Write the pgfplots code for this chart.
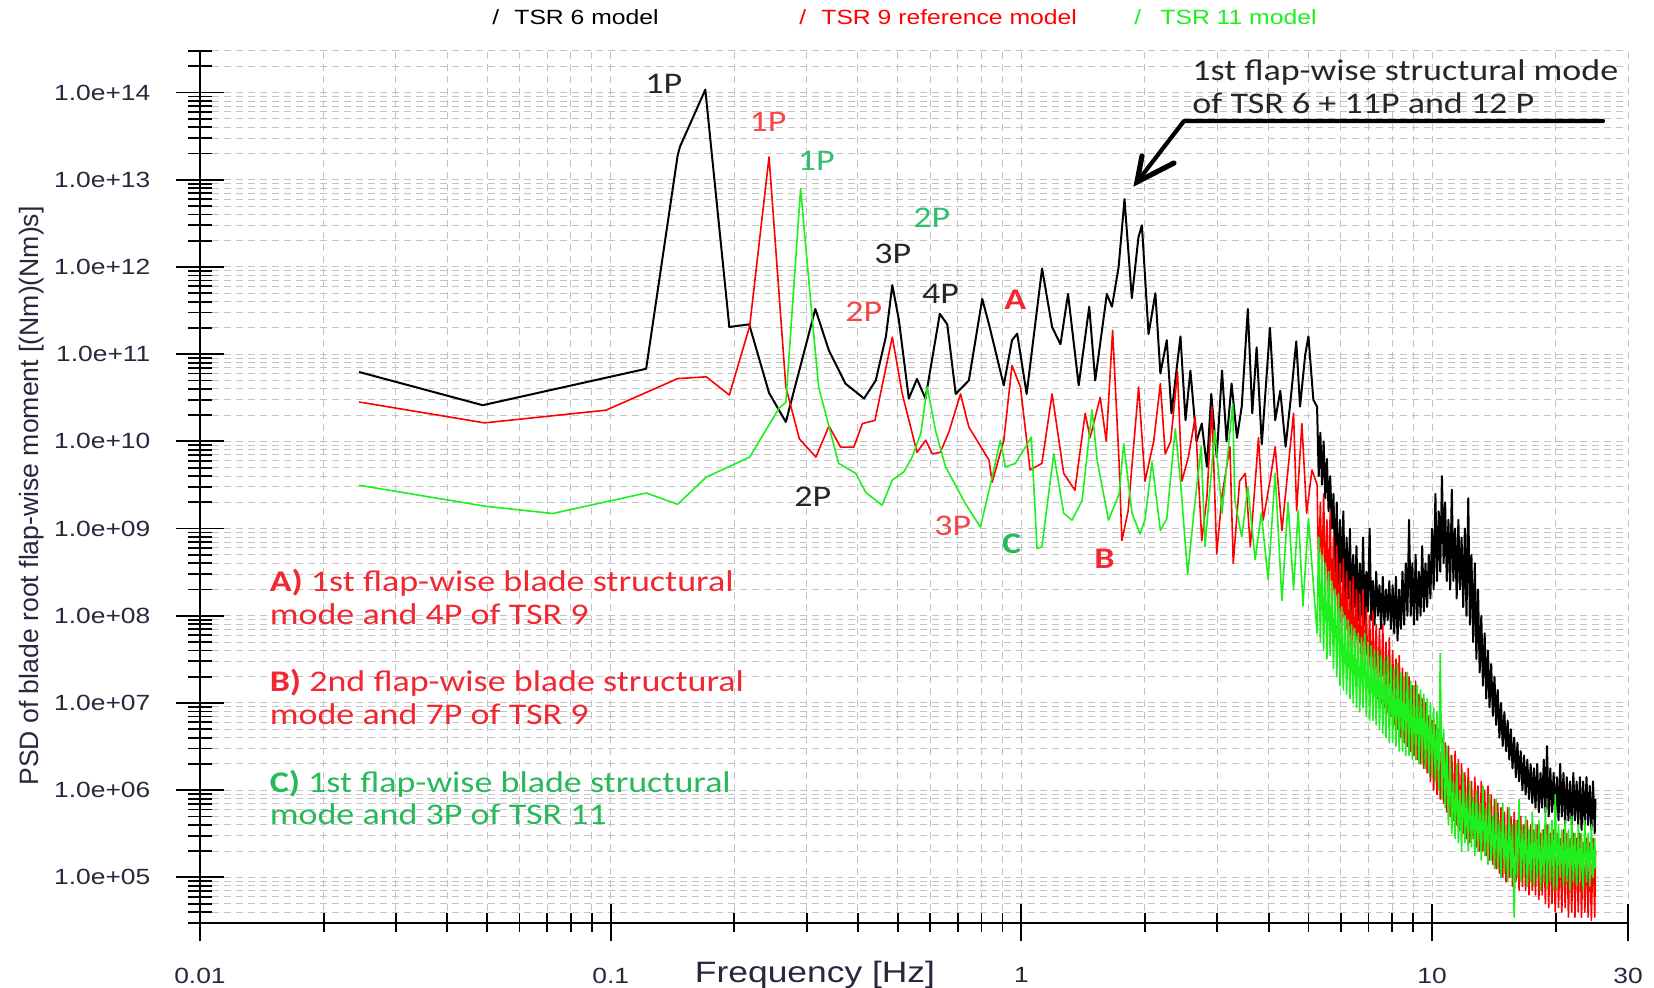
\documentclass[border=0pt]{standalone}
\usepackage{fontspec}
\setmainfont{Liberation Sans}
\newfontfamily\tickfont[FakeStretch=1.2]{Liberation Sans}
\newfontfamily\annfont[FakeStretch=1.2]{Carlito}
\usepackage{pgfplots}
\pgfplotsset{compat=1.18}
\definecolor{pred}{RGB}{255,0,0}
\definecolor{pgreen}{RGB}{30,240,30}
\definecolor{tred}{RGB}{240,40,50}
\definecolor{lred}{RGB}{245,70,70}
\definecolor{tgreen}{RGB}{40,185,90}
\definecolor{lgreen}{RGB}{50,190,110}
\definecolor{tickc}{RGB}{40,40,60}
\definecolor{gridc}{RGB}{195,195,195}
\begin{document}
\begin{tikzpicture}
\useasboundingbox (-100pt,-32.5pt) rectangle (727pt,461.5pt);
\begin{axis}[
  at={(0,0)}, anchor=south west,
  scale only axis, width=714pt, height=436pt,
  xmode=log, ymode=log,
  xmin=0.01, xmax=30, ymin=3e4, ymax=3e14,
  axis lines=left, axis line style={-, line width=1.1pt, black},
  xtick={0.01,0.1,1,10,30}, xticklabels={0.01,0.1,1,10,30},
  minor xtick={0.02,0.03,0.04,0.05,0.06,0.07,0.08,0.09,0.2,0.3,0.4,0.5,0.6,0.7,0.8,0.9,2,3,4,5,6,7,8,9,20},
  ytick={1e5,1e6,1e7,1e8,1e9,1e10,1e11,1e12,1e13,1e14},
  yticklabels={1.0e+05,1.0e+06,1.0e+07,1.0e+08,1.0e+09,1.0e+10,1.0e+11,1.0e+12,1.0e+13,1.0e+14},
  minor ytick={3e4,4e4,5e4,6e4,7e4,8e4,9e4,
    2e5,3e5,4e5,5e5,6e5,7e5,8e5,9e5,
    2e6,3e6,4e6,5e6,6e6,7e6,8e6,9e6,
    2e7,3e7,4e7,5e7,6e7,7e7,8e7,9e7,
    2e8,3e8,4e8,5e8,6e8,7e8,8e8,9e8,
    2e9,3e9,4e9,5e9,6e9,7e9,8e9,9e9,
    2e10,3e10,4e10,5e10,6e10,7e10,8e10,9e10,
    2e11,3e11,4e11,5e11,6e11,7e11,8e11,9e11,
    2e12,3e12,4e12,5e12,6e12,7e12,8e12,9e12,
    2e13,3e13,4e13,5e13,6e13,7e13,8e13,9e13,
    2e14,3e14},
  grid=both,
  major grid style={gridc, line width=0.5pt, dash pattern=on 3.5pt off 2.5pt},
  minor grid style={gridc, line width=0.5pt, dash pattern=on 3.5pt off 2.5pt},
  tick align=center,
  major tick length=22pt, minor tick length=10.5pt,
  xtick style={/pgfplots/major tick length=18.5pt, /pgfplots/minor tick length=9.5pt},
  ytick style={/pgfplots/major tick length=24.5pt, /pgfplots/minor tick length=11.7pt},
  tick style={black, line width=0.9pt},
  minor tick style={black, line width=0.9pt},
  ticklabel style={font=\tickfont\fontsize{11}{13}\selectfont, text=tickc},
  yticklabel style={xshift=-10.3pt},
  xticklabel style={yshift=-7.8pt},
  clip=true,
]
\addplot[black, line width=1pt, line join=round] coordinates {
(0.0244,6.25e10)(0.0488,2.6e10)(0.122,6.8e10)(0.1456,1.91e13)(0.1475,2.4e13)(0.170,1.08e14)(0.1945,2.05e11)(0.2174,2.2e11)(0.243,3.6e10)(0.267,1.67e10)(0.315,3.3e11)(0.340,1.1e11)(0.373,4.6e10)(0.414,3.1e10)(0.442,5e10)(0.468,1.6e11)(0.485,6.2e11)(0.503,2.5e11)(0.532,3.1e10)(0.557,5.2e10)(0.584,3.1e10)(0.633,2.9e11)(0.66,2.2e11)(0.692,3.5e10)(0.745,5e10)(0.803,4.3e11)(0.834,2.2e11)(0.906,4.4e10)(0.949,1.45e11)(0.977,1.72e11)(1.03,3.5e10)(1.123,9.6e11)(1.188,2.05e11)(1.245,1.3e11)(1.299,4.9e11)(1.379,4.4e10)(1.463,3.5e11)(1.513,5e10)(1.615,4.9e11)(1.662,3.5e11)(1.725,1e12)(1.783,6e12)(1.858,4.4e11)(1.928,2.2e12)(1.966,3e12)(2.04,1.7e11)(2.12,5e11)(2.18,6e10)(2.26,1.45e11)(2.32,2.1e10)(2.44,1.6e11)(2.51,1.75e10)(2.58,6.5e10)(2.67,1.0e10)(2.75,1.6e10)(2.83,5.1e9)(2.90,3.5e10)(2.99,6.6e9)(3.08,6.5e10)(3.16,1.0e10)(3.25,4.6e10)(3.35,1.1e10)(3.44,2.5e10)(3.56,3.3e11)(3.65,2.1e10)(3.74,1.2e11)(3.85,9.3e9)(4.03,2.0e11)(4.15,1.75e10)(4.27,3.8e10)(4.40,8.7e9)(4.54,3.5e10)(4.67,1.4e11)(4.77,2.5e10)(4.91,9.8e10)(5.00,1.6e11)(5.14,3e10)
(5.248,2.5e10)(5.297,4e9)(5.346,1.26e10)(5.395,3.2e9)(5.445,1e10)(5.495,2.24e9)(5.546,6.3e9)(5.598,1.58e9)(5.649,4e9)(5.702,1e9)(5.754,2.5e9)(5.808,3.2e8)(5.861,2e9)(5.916,2e8)(5.970,1.26e9)(6.026,2.5e8)(6.081,1.58e9)(6.138,1.26e8)(6.194,7.9e8)(6.252,1.58e8)(6.310,1e9)(6.368,1e8)(6.427,5e8)(6.486,1.26e8)(6.546,6.3e8)(6.607,8.9e7)(6.668,4e8)(6.730,1e8)(6.792,7.9e8)(6.855,7.9e7)(6.918,3.2e8)(6.982,1.12e8)(7.047,1e9)(7.112,8.9e7)(7.178,2.5e8)(7.244,7.9e7)(7.311,3.2e8)(7.379,1e8)(7.447,2.24e8)(7.516,7.1e7)(7.586,2.8e8)(7.656,7.9e7)(7.727,2e8)(7.798,8.9e7)(7.870,2.5e8)(7.943,7.1e7)(8.017,2.24e8)(8.091,6.3e7)(8.166,2.8e8)(8.241,5.2e7)(8.318,2e8)(8.395,7.1e7)(8.472,3.2e8)(8.551,7.9e7)(8.630,4e8)(8.710,1e8)(8.790,1.26e9)(8.872,1e8)(8.954,4e8)(9.036,7.9e7)(9.120,5e8)(9.204,8.9e7)(9.290,3.2e8)(9.376,1e8)(9.462,6.3e8)(9.550,1.12e8)(9.638,4e8)(9.727,1.26e8)(9.817,5e8)(9.908,1.58e8)(10.00,1e9)(10.09,2e8)(10.19,2.5e9)(10.28,2.5e8)(10.38,1.58e9)(10.47,3.2e8)(10.57,4e9)(10.67,4e8)(10.76,2e9)(10.86,2.5e8)(10.96,1.26e9)(11.07,2e8)(11.17,2.8e9)(11.27,2.5e8)(11.38,1e9)(11.48,1.58e8)(11.59,1.26e9)(11.69,2e8)(11.80,7.9e8)(11.91,1.26e8)(12.02,1e9)(12.13,1e8)(12.25,2.24e9)(12.36,7.9e7)(12.47,5e8)(12.59,5e7)(12.71,4e8)(12.82,3.2e7)(12.94,2e8)(13.06,2.24e7)(13.18,1e8)(13.30,1.58e7)(13.43,6.3e7)(13.55,1.12e7)(13.68,4e7)(13.80,8.9e6)(13.93,2.8e7)(14.06,7.1e6)(14.19,2e7)(14.32,5.6e6)(14.45,1.41e7)(14.59,4e6)(14.72,1e7)(14.86,3.2e6)(15.00,7.9e6)(15.14,2.8e6)(15.28,6.3e6)(15.42,2.24e6)(15.56,5e6)(15.70,1.78e6)(15.85,4e6)(16.00,1.41e6)(16.14,3.5e6)(16.29,1.26e6)(16.44,2.8e6)(16.60,1e6)(16.75,2.5e6)(16.90,8.9e5)(17.06,2.24e6)(17.22,7.9e5)(17.38,2e6)(17.54,7.1e5)(17.70,1.78e6)(17.86,6.3e5)(18.03,2e6)(18.20,5.6e5)(18.37,1.58e6)(18.54,6.3e5)(18.71,2.24e6)(18.88,5.6e5)(19.05,3.2e6)(19.23,5e5)(19.41,1.78e6)(19.59,5.6e5)(19.77,1.58e6)(19.95,5e5)(20.14,1.41e6)(20.32,4.5e5)(20.51,2e6)(20.70,5e5)(20.89,1.58e6)(21.09,4e5)(21.28,1.41e6)(21.48,4.5e5)(21.68,1.26e6)(21.88,4e5)(22.08,1.58e6)(22.28,4.5e5)(22.49,1.26e6)(22.70,4e5)(22.91,1.41e6)(23.12,3.5e5)(23.33,1.26e6)(23.55,4e5)(23.77,1.41e6)(23.99,4e5)(24.21,1.12e6)(24.43,3.5e5)(24.66,1.26e6)(24.89,3.2e5)(25.0,7.9e5)
};
\addplot[pred, line width=0.8pt, line join=round] coordinates {
(0.0244,2.83e10)(0.0493,1.63e10)(0.0974,2.28e10)(0.1456,5.25e10)(0.171,5.5e10)(0.1945,3.4e10)(0.218,2.1e11)(0.243,1.83e13)(0.267,4.2e10)(0.288,1.07e10)(0.316,6.6e9)(0.340,1.5e10)(0.363,8.6e9)(0.391,8.6e9)(0.41,1.6e10)(0.44,1.74e10)(0.485,1.57e11)(0.513,3.5e10)(0.557,7.5e9)(0.585,1.03e10)(0.607,7.2e9)(0.635,7.5e9)(0.666,1.28e10)(0.711,3.5e10)(0.745,1.46e10)(0.834,6.1e9)(0.849,3.4e9)(0.906,1.02e10)(0.949,7.4e10)(0.995,4.2e10)(1.05,4.7e9)(1.122,5.6e9)(1.188,3.5e10)(1.268,4.3e9)(1.35,2.75e9)(1.43,2.1e10)(1.47,1.1e10)(1.556,3.2e10)(1.61,1.0e10)(1.668,1.88e11)(1.73,5.6e9)(1.757,7.3e8)(1.82,1.6e9)(1.93,4.2e10)(2.0,3.5e9)(2.1,1.0e10)(2.18,4.6e10)(2.24,7.2e9)(2.31,1.0e10)(2.40,6.3e10)(2.46,3.5e9)(2.55,6.6e9)(2.65,1.9e10)(2.75,7.3e8)(2.83,2.3e9)(2.91,2.5e10)(2.99,5.1e8)(3.08,2.4e9)(3.22,8.7e9)(3.28,4e8)(3.40,3.5e9)(3.51,4.3e9)(3.61,6.2e8)(3.78,1.1e10)(3.88,1.25e9)(4.03,3.5e9)(4.15,8.7e9)(4.31,9.5e8)(4.60,2.1e10)(4.68,1.6e9)(4.82,1.6e10)(4.95,1.5e9)(5.10,4.7e9)
(5.248,3.2e9)(5.297,3.2e8)(5.346,2e9)(5.395,2.5e8)(5.445,2.5e9)(5.495,2e8)(5.546,1.26e9)(5.598,1.26e8)(5.649,1.58e9)(5.702,1e8)(5.754,7.9e8)(5.808,8.9e7)(5.861,6.3e8)(5.916,7.1e7)(5.970,4e8)(6.026,5e7)(6.081,4.5e8)(6.138,4e7)(6.194,3.2e8)(6.252,3.5e7)(6.310,2.5e8)(6.368,3.2e7)(6.427,2.8e8)(6.486,2.8e7)(6.546,2e8)(6.607,2.5e7)(6.668,1.78e8)(6.730,2.24e7)(6.792,2e8)(6.855,2e7)(6.918,1.26e8)(6.982,1.58e7)(7.047,1e8)(7.112,1.41e7)(7.178,1.12e8)(7.244,1.26e7)(7.311,7.9e7)(7.379,1.12e7)(7.447,7.1e7)(7.516,1e7)(7.586,7.9e7)(7.656,8.9e6)(7.727,5e7)(7.798,7.9e6)(7.870,5.6e7)(7.943,7.1e6)(8.017,4e7)(8.091,5.6e6)(8.166,3.2e7)(8.241,5e6)(8.318,3.5e7)(8.395,4e6)(8.472,2.5e7)(8.551,3.5e6)(8.630,2.24e7)(8.710,3.2e6)(8.790,2e7)(8.872,2.8e6)(8.954,1.58e7)(9.036,2.5e6)(9.120,1.78e7)(9.204,2.24e6)(9.290,1.26e7)(9.376,2e6)(9.462,1.12e7)(9.550,1.78e6)(9.638,1e7)(9.727,1.58e6)(9.817,7.1e6)(9.908,1.26e6)(10.00,6.3e6)(10.09,1e6)(10.19,5.6e6)(10.28,8.9e5)(10.38,5e6)(10.47,7.9e5)(10.57,4e6)(10.67,7.1e5)(10.76,3.5e6)(10.86,5.6e5)(10.96,3.2e6)(11.07,5e5)(11.17,2.5e6)(11.27,4.5e5)(11.38,2.8e6)(11.48,4e5)(11.59,2.24e6)(11.69,3.5e5)(11.80,2e6)(11.91,3.2e5)(12.02,1.58e6)(12.13,2.8e5)(12.25,1.78e6)(12.36,2.5e5)(12.47,1.26e6)(12.59,2.8e5)(12.71,1.41e6)(12.82,2.24e5)(12.94,1.12e6)(13.06,2e5)(13.18,1.26e6)(13.30,2e5)(13.43,1e6)(13.55,1.78e5)(13.68,1.12e6)(13.80,1.58e5)(13.93,8.9e5)(14.06,1.41e5)(14.19,7.9e5)(14.32,1.26e5)(14.45,7.1e5)(14.59,1.12e5)(14.72,6.3e5)(14.86,1e5)(15.00,5.6e5)(15.14,8.9e4)(15.28,6.3e5)(15.42,1e5)(15.56,5e5)(15.70,7.9e4)(15.85,5.6e5)(16.00,8.9e4)(16.14,4.5e5)(16.29,7.1e4)(16.44,5e5)(16.60,7.9e4)(16.75,4e5)(16.90,7.1e4)(17.06,4.5e5)(17.22,6.3e4)(17.38,4e5)(17.54,7.1e4)(17.70,3.5e5)(17.86,6.3e4)(18.03,4e5)(18.20,5.6e4)(18.37,3.2e5)(18.54,6.3e4)(18.71,3.5e5)(18.88,5e4)(19.05,4e5)(19.23,4.5e4)(19.41,3.2e5)(19.59,5e4)(19.77,3.5e5)(19.95,4e4)(20.14,3.2e5)(20.32,4.5e4)(20.51,2.8e5)(20.70,4e4)(20.89,3.5e5)(21.09,4.5e4)(21.28,3.2e5)(21.48,3.5e4)(21.68,2.8e5)(21.88,4e4)(22.08,3.2e5)(22.28,3.5e4)(22.49,2.8e5)(22.70,4e4)(22.91,3.2e5)(23.12,3.5e4)(23.33,2.5e5)(23.55,4e4)(23.77,2.8e5)(23.99,3.5e4)(24.21,2.5e5)(24.43,3.2e4)(24.66,2.8e5)(24.89,3.5e4)(25.0,2e5)
};
\addplot[pgreen, line width=0.8pt, line join=round] coordinates {
(0.0244,3.14e9)(0.0497,1.8e9)(0.0723,1.49e9)(0.122,2.56e9)(0.1456,1.9e9)(0.171,3.9e9)(0.218,6.6e9)(0.257,2.4e10)(0.267,2.8e10)(0.290,7.9e12)(0.31,2.4e11)(0.321,4.2e10)(0.359,5.6e9)(0.395,4.3e9)(0.418,2.6e9)(0.458,1.85e9)(0.485,3.6e9)(0.518,4.5e9)(0.542,6.6e9)(0.569,1.23e10)(0.59,4.2e10)(0.618,1.34e10)(0.654,5.1e9)(0.731,1.93e9)(0.795,1.04e9)(0.849,3.9e9)(0.889,1.03e10)(0.914,5.1e9)(0.967,5.6e9)(1.023,8.6e9)(1.057,1.12e10)(1.092,5.9e8)(1.122,6.2e8)(1.199,7.2e9)(1.268,1.5e9)(1.328,1.25e9)(1.406,2.1e9)(1.486,2.3e10)(1.53,6e9)(1.63,1.25e9)(1.73,2.5e9)(1.775,9.4e9)(1.86,1.5e9)(1.945,8.7e8)(2.0,1.26e9)(2.08,5.8e9)(2.18,9.5e8)(2.26,1.3e9)(2.37,1.4e10)(2.44,3.5e9)(2.54,3e8)(2.65,2.1e9)(2.74,8.7e9)(2.80,6.2e8)(2.96,1.34e10)(3.08,1.5e9)(3.27,2.7e10)(3.31,2.1e9)(3.44,8e8)(3.56,3e9)(3.71,4.4e8)(3.84,1.5e9)(3.99,2.6e8)(4.15,4.3e9)(4.31,1.5e8)(4.46,2e9)(4.60,2e8)(4.72,1.6e9)(4.85,1.3e8)(5.0,1.3e9)
(5.248,6.3e7)(5.297,7.9e8)(5.346,5e7)(5.395,5e8)(5.445,4e7)(5.495,4e8)(5.546,3.2e7)(5.598,3.2e8)(5.649,3.5e7)(5.702,2.5e8)(5.754,2.5e7)(5.808,2e8)(5.861,2e7)(5.916,1.78e8)(5.970,1.58e7)(6.026,1.26e8)(6.081,1.41e7)(6.138,1e8)(6.194,1.26e7)(6.252,8.9e7)(6.310,1.12e7)(6.368,7.9e7)(6.427,1e7)(6.486,7.1e7)(6.546,8.9e6)(6.607,6.3e7)(6.668,7.9e6)(6.730,5.6e7)(6.792,8.9e6)(6.855,6.3e7)(6.918,7.1e6)(6.982,5e7)(7.047,6.3e6)(7.112,4.5e7)(7.178,6.3e6)(7.244,4e7)(7.311,5.6e6)(7.379,4e7)(7.447,5e6)(7.516,3.5e7)(7.586,4.5e6)(7.656,3.2e7)(7.727,4e6)(7.798,3.5e7)(7.870,3.5e6)(7.943,2.8e7)(8.017,3.5e6)(8.091,2.5e7)(8.166,3.2e6)(8.241,2.8e7)(8.318,2.8e6)(8.395,2.24e7)(8.472,2.8e6)(8.551,2e7)(8.630,2.5e6)(8.710,2.24e7)(8.790,2.5e6)(8.872,1.78e7)(8.954,2.24e6)(9.036,1.58e7)(9.120,2.24e6)(9.204,1.58e7)(9.290,2e6)(9.376,1.41e7)(9.462,2e6)(9.550,1.26e7)(9.638,1.78e6)(9.727,1.12e7)(9.817,1.58e6)(9.908,1e7)(10.00,1.41e6)(10.09,8.9e6)(10.19,1.26e6)(10.28,7.9e6)(10.38,1e6)(10.47,3.7e7)(10.57,7.9e5)(10.67,5e6)(10.76,6.3e5)(10.86,3.2e6)(10.96,4e5)(11.07,2.5e6)(11.17,3.2e5)(11.27,1.26e6)(11.38,2.8e5)(11.48,2e6)(11.59,2.5e5)(11.69,1e6)(11.80,2e5)(11.91,1.58e6)(12.02,2.5e5)(12.13,8.9e5)(12.25,2e5)(12.36,1.26e6)(12.47,2.24e5)(12.59,7.9e5)(12.71,1.78e5)(12.82,1e6)(12.94,2e5)(13.06,7.1e5)(13.18,1.58e5)(13.30,1.12e6)(13.43,1.78e5)(13.55,6.3e5)(13.68,1.41e5)(13.80,8.9e5)(13.93,1.58e5)(14.06,5e5)(14.19,1.26e5)(14.32,7.9e5)(14.45,1.26e5)(14.59,4.5e5)(14.72,1e5)(14.86,7.1e5)(15.00,1.12e5)(15.14,4e5)(15.28,8.9e4)(15.42,6.3e5)(15.56,1e5)(15.70,4e5)(15.85,3.5e4)(16.00,4.5e5)(16.14,1e5)(16.29,7.9e5)(16.44,8.9e4)(16.60,4e5)(16.75,1e5)(16.90,5e5)(17.06,7.9e4)(17.22,3.5e5)(17.38,8.9e4)(17.54,5.6e5)(17.70,7.9e4)(17.86,4e5)(18.03,1e5)(18.20,4.5e5)(18.37,7.1e4)(18.54,3.5e5)(18.71,8.9e4)(18.88,6.3e5)(19.05,7.9e4)(19.23,4e5)(19.41,8.9e4)(19.59,4.5e5)(19.77,7.1e4)(19.95,8.9e5)(20.14,7.9e4)(20.32,4e5)(20.51,1e5)(20.70,3.5e5)(20.89,7.9e4)(21.09,4.5e5)(21.28,8.9e4)(21.48,3.5e5)(21.68,7.1e4)(21.88,5e5)(22.08,8.9e4)(22.28,3.2e5)(22.49,7.9e4)(22.70,4e5)(22.91,8.9e4)(23.12,3.2e5)(23.33,7.1e4)(23.55,4.5e5)(23.77,8.9e4)(23.99,3.2e5)(24.21,7.9e4)(24.43,4e5)(24.66,1e5)(24.89,2.8e5)(25.0,1.26e5)
};
\end{axis}
% legend
\begin{scope}[every node/.style={anchor=base west, inner sep=0pt, font=\tickfont\fontsize{10.3}{12}\selectfont}]
\node[text=black] at (146pt,449pt) {/};
\node[text=black] at (157pt,449pt) {TSR 6 model};
\node[text=pred] at (299.5pt,449pt) {/};
\node[text=pred] at (310.5pt,449pt) {TSR 9 reference model};
\node[text=pgreen] at (467pt,449pt) {/};
\node[text=pgreen] at (480pt,449pt) {TSR 11 model};
\end{scope}
% axis labels
\node[anchor=base, inner sep=0pt, font=\tickfont\fontsize{14.75}{17}\selectfont, text=tickc] at (307.5pt,-30pt) {Frequency [Hz]};
\node[rotate=90, inner sep=0pt, font=\fontsize{13.3}{16}\selectfont, text=tickc] at (-84pt,213.5pt) {PSD of blade root flap-wise moment [(Nm)(Nm)s]};
% annotations
\begin{scope}[every node/.style={anchor=base west, inner sep=0pt, font=\annfont\fontsize{15}{18}\selectfont}]
\node[text=black!85] at (496pt,421pt) {1st flap-wise structural mode};
\node[text=black!85] at (496pt,404.5pt) {of TSR 6 + 11P and 12 P};
\node[text=black!85] at (222.5pt,414.9pt) {1P};
\node[text=lred] at (274.6pt,395.6pt) {1P};
\node[text=lgreen] at (298.7pt,376pt) {1P};
\node[text=lgreen] at (356.5pt,347.6pt) {2P};
\node[text=black!85] at (337pt,329.8pt) {3P};
\node[text=lred] at (322.5pt,300.6pt) {2P};
\node[text=black!85] at (360.8pt,309.8pt) {4P};
\node[text=tred] at (402pt,306.5pt) {\bfseries A};
\node[text=black!85] at (297pt,208.1pt) {2P};
\node[text=lred] at (367pt,193.5pt) {3P};
\node[text=tgreen] at (400.8pt,184.8pt) {\bfseries C};
\node[text=tred] at (447pt,177.3pt) {\bfseries B};
\node[text=tred] at (34.7pt,165.6pt) {\textbf{A)} 1st flap-wise blade structural};
\node[text=tred] at (34.7pt,149pt) {mode and 4P of TSR 9};
\node[text=tred] at (34.7pt,115.6pt) {\textbf{B)} 2nd flap-wise blade structural};
\node[text=tred] at (34.7pt,99pt) {mode and 7P of TSR 9};
\node[text=tgreen] at (34.7pt,65.1pt) {\textbf{C)} 1st flap-wise blade structural};
\node[text=tgreen] at (34.7pt,49pt) {mode and 3P of TSR 11};
\end{scope}
% arrow
\draw[line width=2.1pt, line cap=round, line join=round] (701.5pt,401pt) -- (492pt,401pt) -- (468.5pt,370.5pt);
\draw[line width=2.6pt, line cap=round, line join=miter] (471pt,383.5pt) -- (468.5pt,370.5pt) -- (487pt,380pt);
\end{tikzpicture}
\end{document}
